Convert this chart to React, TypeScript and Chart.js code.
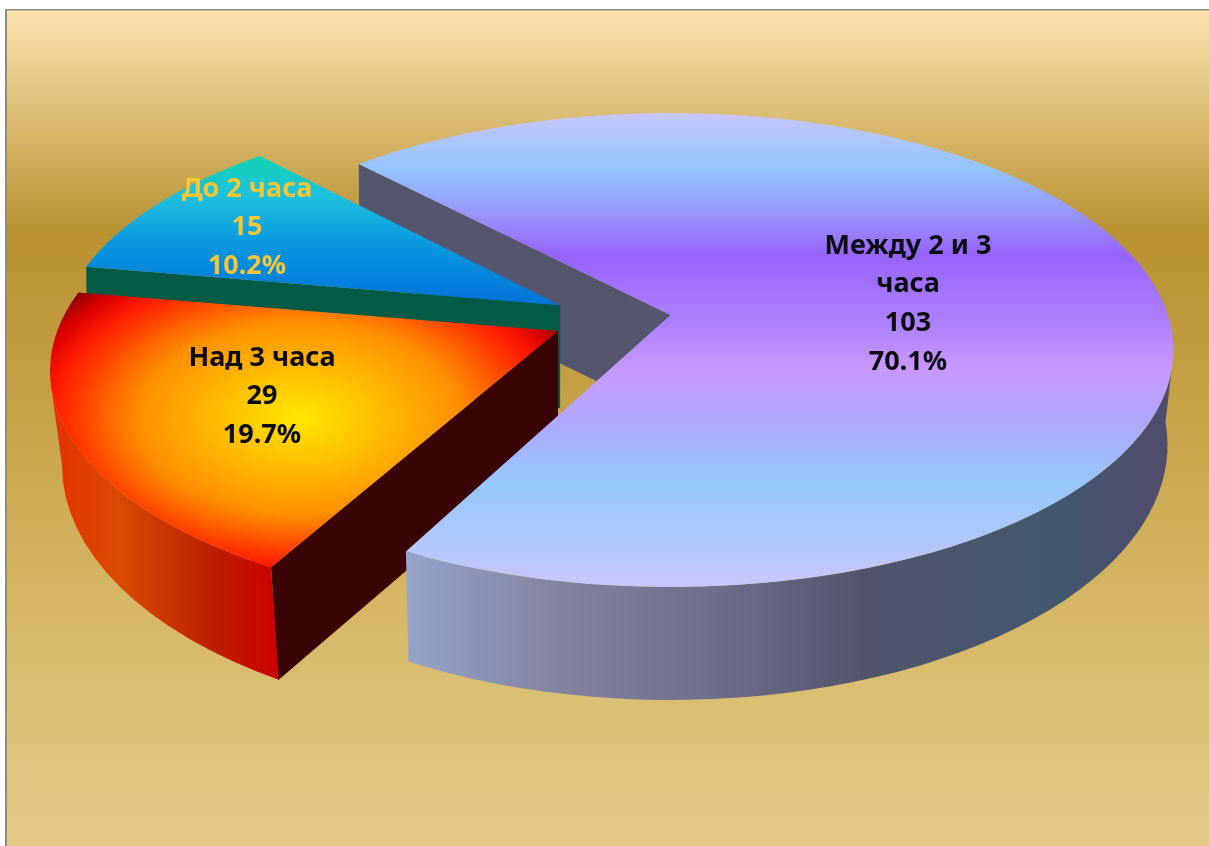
import React, { useEffect, useRef } from "react";
import { Chart, registerables } from "chart.js";

Chart.register(...registerables);

// Survey answers: how long the activity takes
const categories = [["Между 2 и 3", "часа"], ["Над 3 часа"], ["До 2 часа"]];
const counts = [103, 29, 15];

const WIDTH = 1209;
const HEIGHT = 846;

// Where the tilted disc sits on the canvas
const PIVOT = { x: 610.5, y: 318.6 };
const TOP_RX = 503;
const TOP_RY = 237;
const EXPLODE = 48;
const DEG = Math.PI / 180;

// Per-slice perspective corrections, in pixels from the slice apex (angles in degrees)
const rims = [
  { shift: 0, dx: 0, dy: 35, lowDx: 0, lowDy: 130, lowRx: 497, lowRy: 255, twistStart: -0.72, twistEnd: -0.95 },
  { shift: 2, dx: -5, dy: 40, lowDx: 1, lowDy: 134, lowRx: 497, lowRy: 260, twistStart: 0.6, twistEnd: 0 },
  { shift: 3, dx: 0, dy: 41, lowDx: 0, lowDy: 130, lowRx: 497, lowRy: 255, twistStart: 0, twistEnd: 0 },
];

const labelAnchors = [
  { x: 908, y: 246, color: "#0c0c10" },
  { x: 262, y: 358, color: "#0c0c10" },
  { x: 247, y: 189, color: "#f4c534" },
];
const LINE_HEIGHT = 38.8;
const FONT = 'bold 27px "Noto Sans", sans-serif';

type Stops = [number, string][];
const backgroundStops: Stops = [
  [0, "#fae3ae"], [0.27, "#b89030"], [0.55, "#cca950"], [0.78, "#d8bc6e"], [1, "#e4cc88"],
];
const violetStops: Stops = [
  [0, "#c8c8ff"], [0.12, "#92c4fb"], [0.2, "#989cfb"], [0.3, "#9763fb"], [0.44, "#ad80fd"], [0.54, "#c898ff"],
  [0.66, "#aea9fd"], [0.78, "#94c8fb"], [1, "#c8c8ff"],
];
const violetWallStops: Stops = [
  [0, "#95a4c9"], [0.2, "#82839f"], [0.4, "#6e6f8a"], [0.6, "#52546c"], [0.85, "#42586e"], [1, "#504c6c"],
];
const fireStops: Stops = [
  [0, "#ffe800"], [0.14, "#ffd000"], [0.5, "#ff9000"], [0.78, "#ff1800"], [0.87, "#d80000"], [1, "#500000"],
];
const fireWallStops: Stops = [[0, "#e43000"], [0.3, "#d84a00"], [0.7, "#bb2000"], [1, "#cc0000"]];
const aquaStops: Stops = [[0, "#10d2b2"], [0.27, "#1ec0dc"], [0.57, "#0a9ae0"], [1, "#0072d8"]];
const VIOLET_INNER = "#53566c";
const AQUA_INNER = "#035a45";
const FIRE_INNER = "#3a0404";

function linear(ctx: CanvasRenderingContext2D, x0: number, y0: number, x1: number, y1: number, stops: Stops) {
  const g = ctx.createLinearGradient(x0, y0, x1, y1);
  stops.forEach(([o, c]) => g.addColorStop(o, c));
  return g;
}

// Ellipse angle hit by a ray leaving the apex at the slice's ground-plane angle
function rimAngle(t: number, a: number) {
  const c = Math.cos(t);
  const s = Math.sin(t);
  const k = a * s + Math.sqrt(a * a * s * s - a * a + 1);
  return Math.atan2(-a + k * s, k * c);
}

function sliceGeometry(chart: any, i: number) {
  const arc = chart.getDatasetMeta(0).data[i];
  const scale = TOP_RX / arc.outerRadius;
  const mid = (arc.startAngle + arc.endAngle) / 2;
  const off = arc.options.offset * scale;
  const r = rims[i];
  const apex = {
    x: PIVOT.x + Math.cos(mid) * off + r.shift,
    y: PIVOT.y + Math.sin(mid) * off * (TOP_RY / TOP_RX),
  };
  const cx = apex.x + r.dx;
  const cy = apex.y + r.dy;
  const a = r.dy / TOP_RY;
  const a0 = rimAngle(arc.startAngle + r.twistStart * DEG, a);
  const a1 = rimAngle(arc.endAngle + r.twistEnd * DEG, a);
  const at = (ang: number) => ({ x: cx + TOP_RX * Math.cos(ang), y: cy + TOP_RY * Math.sin(ang) });
  return { apex, cx, cy, a0, a1, at, low: { cx: apex.x + r.lowDx, cy: apex.y + r.lowDy, rx: r.lowRx, ry: r.lowRy } };
}

function quad(ctx: CanvasRenderingContext2D, pts: { x: number; y: number }[], fill: string) {
  ctx.beginPath();
  pts.forEach((p, i) => (i ? ctx.lineTo(p.x, p.y) : ctx.moveTo(p.x, p.y)));
  ctx.closePath();
  ctx.fillStyle = fill;
  ctx.fill();
}

function topFace(ctx: CanvasRenderingContext2D, g: ReturnType<typeof sliceGeometry>) {
  ctx.beginPath();
  ctx.moveTo(g.apex.x, g.apex.y);
  ctx.ellipse(g.cx, g.cy, TOP_RX, TOP_RY, 0, g.a0, g.a1, false);
  ctx.closePath();
}

// Outer wall between the top rim and the lower rim
function outerWall(
  ctx: CanvasRenderingContext2D,
  g: ReturnType<typeof sliceGeometry>,
  fromAngle: number,
  toAngle: number,
  lowFrom: number,
  lowTo: number,
) {
  ctx.beginPath();
  ctx.ellipse(g.cx, g.cy, TOP_RX, TOP_RY, 0, fromAngle, toAngle, false);
  ctx.ellipse(g.low.cx, g.low.cy, g.low.rx, g.low.ry, 0, lowTo, lowFrom, true);
  ctx.closePath();
}

const lowAngle = (g: ReturnType<typeof sliceGeometry>, p: { x: number; y: number }) =>
  Math.atan2((p.y - g.low.cy) / g.low.ry, (p.x - g.low.cx) / g.low.rx);

const discPlugin = {
  id: "tiltedDisc",
  beforeDraw(chart: any) {
    const ctx: CanvasRenderingContext2D = chart.ctx;
    ctx.save();
    ctx.fillStyle = "#ffffff";
    ctx.fillRect(0, 0, WIDTH, HEIGHT);
    ctx.fillStyle = linear(ctx, 0, 10, 0, HEIGHT, backgroundStops);
    ctx.fillRect(6, 10, WIDTH - 6, HEIGHT - 10);
    ctx.fillStyle = "#8c8c8c";
    ctx.fillRect(5, 9, WIDTH - 5, 1.5);
    ctx.fillRect(5, 9, 2, HEIGHT - 9);
    ctx.restore();
  },
  beforeDatasetsDraw(chart: any) {
    const ctx: CanvasRenderingContext2D = chart.ctx;
    const big = sliceGeometry(chart, 0);
    const fire = sliceGeometry(chart, 1);
    const aqua = sliceGeometry(chart, 2);
    ctx.save();

    // Cut face of the large slice, seen past the two pulled-out slices
    const bigStart = big.at(big.a0);
    quad(ctx, [
      bigStart,
      { x: big.apex.x, y: big.apex.y },
      { x: big.apex.x, y: big.apex.y + 102 },
      { x: bigStart.x + 1, y: bigStart.y + 102 },
    ], VIOLET_INNER);

    // Small slice
    const aquaStart = aqua.at(aqua.a0);
    quad(ctx, [
      aqua.apex,
      aquaStart,
      { x: aquaStart.x + 1, y: aquaStart.y + 100 },
      { x: aqua.apex.x, y: aqua.apex.y + 103 },
    ], AQUA_INNER);
    topFace(ctx, aqua);
    ctx.fillStyle = linear(ctx, 0, 155, 0, 305, aquaStops);
    ctx.fill();

    // Middle slice
    const fireEnd = fire.at(fire.a0);
    const fireCorner = { x: fireEnd.x + 7, y: fireEnd.y + 113 };
    quad(ctx, [
      fire.apex,
      fireEnd,
      fireCorner,
      { x: fire.apex.x, y: fire.apex.y + 110 },
    ], FIRE_INNER);
    outerWall(ctx, fire, fire.a0, Math.PI * 0.985, lowAngle(fire, fireCorner), Math.PI);
    ctx.fillStyle = linear(ctx, 50, 0, 279, 0, fireWallStops);
    ctx.fill();
    topFace(ctx, fire);
    ctx.save();
    ctx.translate(300, 418);
    ctx.scale(1, 0.6);
    const fireGrad = ctx.createRadialGradient(0, 0, 0, 0, 0, 320);
    fireStops.forEach(([o, c]) => fireGrad.addColorStop(o, c));
    ctx.fillStyle = fireGrad;
    ctx.fill();
    ctx.restore();

    // Large slice
    const bigEnd = big.at(big.a1);
    const bigCorner = { x: bigEnd.x + 4, y: bigEnd.y + 109 };
    ctx.beginPath();
    ctx.ellipse(big.cx, big.cy, TOP_RX, TOP_RY, 0, 0.09, big.a1, false);
    ctx.ellipse(big.low.cx, big.low.cy, big.low.rx, big.low.ry, 0, lowAngle(big, bigCorner), -0.09, true);
    ctx.closePath();
    ctx.fillStyle = linear(ctx, 405, 0, 1172, 0, violetWallStops);
    ctx.fill();
    topFace(ctx, big);
    ctx.fillStyle = linear(ctx, 0, 113, 0, 587, violetStops);
    ctx.fill();

    ctx.restore();
    return false;
  },
  afterDraw(chart: any) {
    const ctx: CanvasRenderingContext2D = chart.ctx;
    const values: number[] = chart.data.datasets[0].data;
    const total = values.reduce((a, b) => a + b, 0);
    ctx.save();
    ctx.font = FONT;
    ctx.textAlign = "center";
    ctx.textBaseline = "middle";
    chart.data.labels.forEach((label: string[], i: number) => {
      const lines = [...label, String(values[i]), ((values[i] / total) * 100).toFixed(1) + "%"];
      const anchor = labelAnchors[i];
      ctx.fillStyle = anchor.color;
      lines.forEach((line, k) => ctx.fillText(line, anchor.x, anchor.y + k * LINE_HEIGHT));
    });
    ctx.restore();
  },
};

export default function App() {
  const ref = useRef<HTMLCanvasElement>(null);
  useEffect(() => {
    const chart = new Chart(ref.current!, {
      type: "pie",
      data: {
        labels: categories as any,
        datasets: [{ data: counts, offset: EXPLODE, borderWidth: 0 }],
      },
      options: {
        animation: false,
        responsive: false,
        rotation: -43.5,
        events: [],
        plugins: { legend: { display: false }, tooltip: { enabled: false } },
      },
      plugins: [discPlugin as any],
    });
    return () => chart.destroy();
  }, []);
  return (
    <div style={{ position: "fixed", left: 0, top: 0, width: WIDTH, height: HEIGHT }}>
      <canvas ref={ref} width={WIDTH} height={HEIGHT} style={{ display: "block" }} />
    </div>
  );
}
